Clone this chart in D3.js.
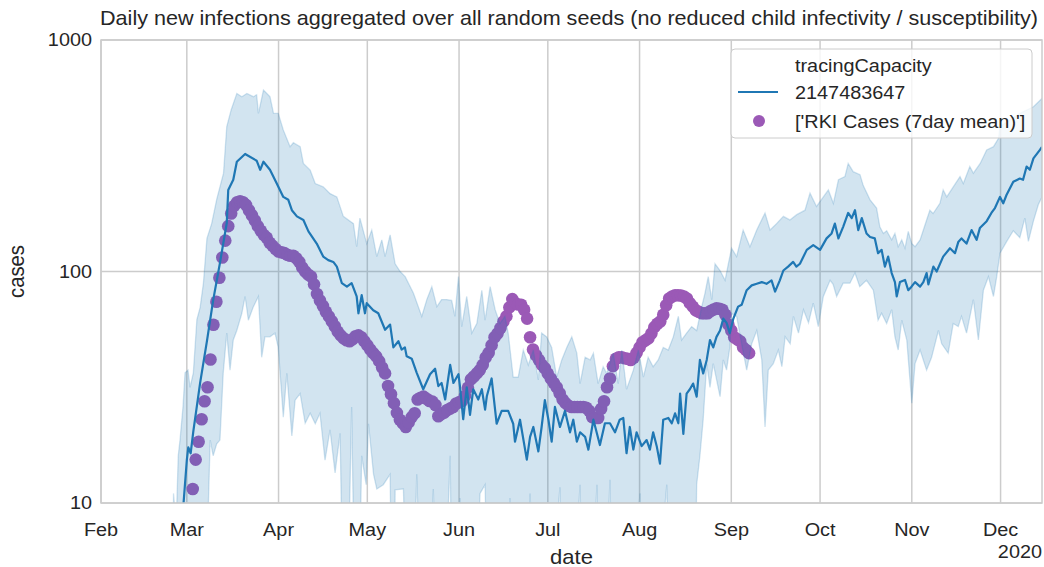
<!DOCTYPE html>
<html><head><meta charset="utf-8">
<script src="https://cdn.jsdelivr.net/npm/d3@7"></script>
<style>body{margin:0;background:#fff}svg{display:block}text{font-family:"Liberation Sans",Arial,sans-serif;fill:#262626}</style>
</head><body><svg id="c" width="1044" height="567"></svg>
<script>
// ---- data (day offsets are days after 2020-03-01) ----
const titleText = "Daily new infections aggregated over all random seeds (no reduced child infectivity / susceptibility)";
const monthTicks = ["2020-02-01","2020-03-01","2020-04-01","2020-05-01","2020-06-01","2020-07-01","2020-08-01","2020-09-01","2020-10-01","2020-11-01","2020-12-01"];
const yTicks = [10, 100, 1000];
const legendTitle = "tracingCapacity";
const seriesName = "2147483647";
const rkiName = "['RKI Cases (7day mean)']";

const meanDays = [-1.1,0,0.5,1.3,2.2,4.5,6.8,8.9,11.2,13.5,14,15.7,16.9,19.7,23.6,24.8,25.9,28.1,30.4,32.6,34.3,35.5,37.2,39.4,41.1,43.9,46.1,47.8,49.5,50.7,52.4,54.1,55.7,57.4,58,59.1,60.2,60.8,63,64.7,67,68.7,69.8,71.5,72.6,73.7,74.3,76,77.7,79.9,82.2,83.9,85,86.1,87.3,89,90.1,91.8,92.3,93.4,94.6,95.7,96.8,98.5,99.7,100.8,101.4,103,104.7,106.4,108.6,110.3,110.9,112.6,114.9,116,117.1,118.8,119.9,121,122.2,123.3,124.4,126.1,127.8,129.5,130.6,131.8,132.9,134.6,135.7,137.4,139.6,141.3,143,144.7,146.3,147.5,148.6,149.7,150.9,152,153.7,155.4,156.5,157.6,158.8,159.9,161,162.7,163.9,165,166.1,166.7,167.8,168.9,170,171.1,172.3,173.4,174.5,175.7,176.8,177.9,179,180.2,181.3,182.4,183.5,184.7,186.3,187.5,189.2,190.9,192.6,194.3,195.9,197.6,198.8,200.4,201.6,203.2,204.9,206,207.2,209.5,211.7,214,216.2,217.9,219,220.2,221.8,223.5,224.7,225.8,226.9,228.1,229.7,230.9,232.5,233.6,234.8,235.9,237,238.2,239.3,239.9,241,242.7,243.8,244.9,246.1,247.8,248.9,250,250.6,252.3,253.4,255.6,257.9,259.6,260.7,261.8,263.5,265.2,266.9,268,270.3,271.9,273.1,274.8,275.9,277,279.3,281.5,282.6,283.8,284.9,286.1,288.3,289];
const meanVals = [10,15.3,17.4,16.4,20.4,33,50,75,109,162,225,249,298,322,301,275,298,275,240,210,204,184,173,167,149,132,116,112,110,105,89,86,89,78,66,79,66,73,68,66,56,59,47,50,46,47,43,42,36.5,31,36,38,32,33,28,39.5,33,36,32,23,31.6,24,31,28,31,25.3,29,34.5,22,25,25,22,18.4,22.9,15.4,19.3,21.3,16.7,21.3,27.8,22.9,18.4,26,21.3,25,20.2,22.9,18.4,20.2,19.3,17,22.9,17.8,22.1,22.1,20.2,22.9,23.3,16.4,21.3,17,20.2,17.6,18.7,17,20.2,17.6,14.8,22.9,23.3,22.1,24.4,22.1,29.7,19.9,29.7,31,32.8,28.8,41.5,36.3,41.5,50.6,47,52.2,55.6,62.6,60,54.2,62.6,70.5,71.8,83,87.1,88.5,90,88.5,91.6,81.9,91.6,101,105,110,105,108,124,130,124,139,146,161,139,156,179,170,184,151,170,146,141,139,120,124,105,116,98.5,90,78,90,92,83,86,90,86,90,98.5,88,105,100,116,126,120,134,139,132,151,137,154,165,179,188,210,197,214,244,252,249,284,275,308,335,345];

const upperDays = [-4.5,-3.6,-2.9,-2.3,-1.3,-0.6,0.4,1.1,2.2,3.4,4.5,5.6,6.8,8.4,10.1,12.4,13.5,15,16.9,18.6,20.3,22.5,23.6,24.2,25.9,28.1,29.3,30.9,32.6,34.9,36,38.3,39.4,41.7,43.4,46.1,48.4,50.7,52.9,56.3,57.4,58.5,60.8,62.5,64.2,65.9,67,68.7,70.4,72.1,73.8,76.6,79.4,81.1,82.8,84.5,86.1,87.8,89.5,90.6,91.8,92.9,94.6,96.3,98,99.7,100.8,102.5,104.2,105.8,107.5,108.6,110.3,112,113.7,115.4,117.1,118.8,119.9,121.6,123.3,125,126.7,128.4,130.1,131.8,132.9,134.6,136.3,137.4,139,140.7,141.9,144.1,145.8,147,148.6,150.9,152.6,154.3,155.9,157.6,159.3,161,162.7,164.4,166.1,167.2,168.9,170.6,172.3,174,175.1,176.2,177.4,178.5,180.2,181.9,183,184.1,185.8,188,190.3,192.6,195.4,197.1,199.3,201.6,203.8,206.1,208.9,210.6,212.8,215.1,216.8,218.5,220.2,222.4,223.5,225.2,227.5,228.6,230.9,233.1,234.2,235.4,236.5,238.2,239.3,240.4,241.6,242.7,243.8,245,246.1,247.8,250,251.1,252.2,254.5,255.6,256.8,259,261.3,262.4,264.6,265.8,268.1,270.3,272.6,274.3,274.8,278.2,281.5,283.8,286.1,289];
const upperVals = [11,8,16,18.7,26,36.5,37.5,31.6,36.5,62,70,89,139,161,205,266,423,500,588,569,588,569,580,482,608,569,482,482,409,346,360,346,293,274,240,232,217,210,173,161,128,170,132,151,116,137,116,144,108,100,95,80.5,64,75.6,86,70.5,75.6,75.6,75,64,95,57.8,78,54.2,59.6,83,61.6,86,68.4,59.6,64,54.2,35,35,45.8,39.5,45.8,34,54.2,52.2,47,35,41.5,47,52.2,44.4,32.8,42.6,41.5,44.4,32.8,38.8,36.3,44.4,32.8,45.8,31,37.5,45.8,35,42.6,38.8,41.5,47,45.8,52.2,64,50.6,54.2,57.8,55.6,70.5,80.5,95,75.6,108,101,91.6,108,126,116,151,128,151,179,151,161,173,167,176,184,218,191,210,225,197,249,257,293,270,262,235,204,188,156,146,150,137,146,128,137,126,149,132,128,137,167,184,178,197,225,210,232,257,240,284,266,293,335,346,376,423,451,482,498,515,560];

const lowerDays = [-4.5,6.8,7.3,7.9,8.9,10.1,11.2,12.3,13.5,14.6,15.7,16.9,18.6,19.7,20.8,22.5,24.2,25.3,26.4,28.1,29.8,30.9,32.6,33.8,35.5,36.6,38.3,40,41.7,43.4,45,46.7,48.4,50.1,51.8,53.5,55.7,57.4,59.1,60.6,61.4,63.1,64.2,66.4,68.7,69.8,70.4,73.2,75.4,77.7,80.5,83.3,85.6,89,90,92.3,95.7,99.1,100.8,102.5,105.8,109.2,112.6,116,119.4,126.1,127.8,132.9,134.6,138.6,139.6,143,144.7,153.2,154.9,162.2,163.3,171.2,172.3,173.4,174.5,175.7,176.8,177.9,179,180.2,181.3,182.4,183.5,184.1,185.8,187.5,189.2,190.9,192.6,194.3,195.4,196.5,198.2,199.9,201.1,202.2,203.9,205,206.7,208.4,210.1,211.7,213.4,215.1,217.4,218.4,219.6,221.8,224.1,225.8,227.4,229.7,232,233.6,234.8,236.5,238.2,239.3,240.4,241.6,243.3,245,246.1,247.8,250,251.7,254,255.1,257.3,259,260.7,261.8,263.5,265.8,267.5,269.2,270.9,272.6,273.7,274.8,277.1,279.3,281.5,283.2,284.4,286.1,287.8,289];
const lowerVals = [1,1,10,18.7,16,18,18.7,36.3,54.2,37.5,50.6,55.6,66,78,61.6,70.5,78,42.6,52.2,52.2,54.2,47,23.5,36.3,19.5,27.8,29.7,22.1,24.4,22,24.4,15.3,20.7,13.5,20,1,26,1,16,12,22,13.3,11.5,12,13.3,1,11.4,11.5,1,13.3,1,11.5,1,16,1,10.5,1,11,12,1,1,10.5,1,11,1,11.7,1,12,1,12,1,12.6,1,11,1,12,1,1,12,16,22.9,40,31.6,40,34.2,28.8,41.5,37.5,47,66,64,48.7,37.5,48.7,55.6,41.5,21.3,37.5,40,45.8,38.8,52.2,48.7,64,54.2,68.4,60,73,57.8,78,91.6,88,78,89,89,98.5,86,91.6,83,61.6,66,59.6,68.4,52.2,45.8,61.6,50.6,27,40,45.8,37.5,42.6,55.6,48.7,44.4,59.6,57.8,64,54.2,75.6,50.6,83,95,78,95,120,135,150,140,170,135,165,195,210];

// RKI 7-day mean, one value per day starting 2020-03-03 (day offset 2)
const rkiStartDay = 2;
const rkiVals = [11.5,15.4,18.4,23,27.5,31.6,41.7,58.9,74,94,115,136,157,178,192,199,201,199,194,184,175,166,157,150,144,140,133,129,125,122,121,120,118,117,117,114,110,104,100,97,95,88,80,75,71,67,64,61,58,55,53,51.5,50.5,50,51,52.5,53,52,50,48,46,44.4,43,41,38.5,36.3,32,29.5,27,24.5,22.9,22.1,21.3,22.3,23.5,24.4,28,28.5,28.8,28.2,27.6,27.4,26.5,23.7,24.2,24.6,25.2,25.6,26,26.9,27.2,27.6,29,31.5,34.2,35.2,36.3,37.5,39.5,42.5,44.5,48,52,54,57,60.8,64,70,76,73,72,71.8,68.4,62.6,52,46,43.5,41.5,39.5,38.2,36.2,34.5,33,31.6,29.8,28,27,26.3,26,26,26,26,26,25.8,25,23.5,23.3,23.3,25.5,27.5,31.6,34.5,39,42,42.6,42.6,42.2,42,41.5,42.4,44.5,47,49.5,50.5,51.5,54,57.5,59.5,60.8,65,71.5,76.5,78,79,79,78.8,78,76.5,73,70.5,68,67,66,66,66,67.5,68.5,69.3,69,68.4,65,59,55.6,52,51,50,47,45.8,44.4];

// ---- drawing ----
const W = 1044, H = 567;
const m = {left: 101, right: 2, top: 40, bottom: 64};
const svg = d3.select("#c");
const base = Date.UTC(2020, 2, 1);
const dayMs = 86400000;
const toDate = d => new Date(base + d * dayMs);
const SX = 1.085; // horizontal text stretch seen in the reference

const x = d3.scaleUtc()
  .domain([new Date(Date.UTC(2020,1,1)), toDate(289)])
  .range([m.left, W - m.right]);
const y = d3.scaleLog().domain([10, 1000]).range([H - m.bottom, m.top]);

const gridCol = "#cccccc";
const tickDates = monthTicks.map(s => new Date(s + "T00:00:00Z"));
svg.append("g").selectAll("line").data(tickDates).join("line")
  .attr("x1", d => x(d)).attr("x2", d => x(d))
  .attr("y1", m.top).attr("y2", H - m.bottom)
  .attr("stroke", gridCol).attr("stroke-width", 1.5);
svg.append("g").selectAll("line").data(yTicks).join("line")
  .attr("x1", m.left).attr("x2", W - m.right)
  .attr("y1", d => y(d)).attr("y2", d => y(d))
  .attr("stroke", gridCol).attr("stroke-width", 1.5);

svg.append("clipPath").attr("id", "clip").append("rect")
  .attr("x", m.left).attr("y", m.top).attr("width", W - m.left - m.right).attr("height", H - m.top - m.bottom);
const plot = svg.append("g").attr("clip-path", "url(#clip)");

const rki = rkiVals.map((v, i) => ({d: rkiStartDay + i, v}));
plot.append("g").selectAll("circle").data(rki).join("circle")
  .attr("cx", p => x(toDate(p.d))).attr("cy", p => y(p.v)).attr("r", 6.3)
  .attr("fill", "#9b59b6");

const yc = v => y(Math.max(v, 0.5));
const upperPts = upperDays.map((d, i) => [x(toDate(d)), yc(upperVals[i])]);
const lowerPts = lowerDays.map((d, i) => [x(toDate(d)), yc(lowerVals[i])]).reverse();
plot.append("path").attr("d", d3.line()(upperPts.concat(lowerPts)) + "Z")
  .attr("fill", "#1f77b4").attr("fill-opacity", 0.2)
  .attr("stroke", "#1f77b4").attr("stroke-opacity", 0.2).attr("stroke-width", 1.3);

const meanPts = meanDays.map((d, i) => ({d, v: meanVals[i]}));
plot.append("path").datum(meanPts)
  .attr("d", d3.line().x(p => x(toDate(p.d))).y(p => y(p.v)))
  .attr("fill", "none").attr("stroke", "#1f77b4").attr("stroke-width", 2.2).attr("stroke-linejoin", "round");

svg.append("rect").attr("x", m.left).attr("y", m.top)
  .attr("width", W - m.left - m.right).attr("height", H - m.top - m.bottom)
  .attr("fill", "none").attr("stroke", gridCol).attr("stroke-width", 1.5);

function txt(g, px, py, str, size, anchor, extra) {
  return g.append("text")
    .attr("transform", `translate(${px},${py}) ` + (extra || `scale(${SX},1)`))
    .attr("text-anchor", anchor).attr("font-size", size).text(str);
}
const tickFs = 18.3, labFs = 20.3;
const gx = svg.append("g");
tickDates.forEach(d => txt(gx, x(d), 536, d3.utcFormat("%b")(d), tickFs, "middle"));
const gy = svg.append("g");
yTicks.forEach(v => txt(gy, m.left - 9, y(v) + 6.4, d3.format("d")(v), tickFs, "end"));
txt(svg, W - 2, 558, "2020", tickFs, "end");
txt(svg, (m.left + W - m.right) / 2, 564, "date", labFs, "middle");
txt(svg, 24, (m.top + H - m.bottom) / 2, "cases", labFs, "middle", `rotate(-90) scale(1,${SX})`);
txt(svg, 569, 25, titleText, 19.9, "middle");

const lg = svg.append("g");
lg.append("rect").attr("x", 731).attr("y", 49).attr("width", 301).attr("height", 89).attr("rx", 4)
  .attr("fill", "#fff").attr("fill-opacity", 0.8).attr("stroke", "#cccccc").attr("stroke-width", 1);
txt(lg, 795, 71.5, legendTitle, tickFs, "start");
lg.append("line").attr("x1", 738).attr("x2", 778).attr("y1", 92).attr("y2", 92).attr("stroke", "#1f77b4").attr("stroke-width", 2.2);
txt(lg, 795, 98.5, seriesName, tickFs, "start");
lg.append("circle").attr("cx", 759).attr("cy", 121).attr("r", 6).attr("fill", "#9b59b6");
txt(lg, 795, 127.5, rkiName, tickFs, "start");
</script></body></html>
